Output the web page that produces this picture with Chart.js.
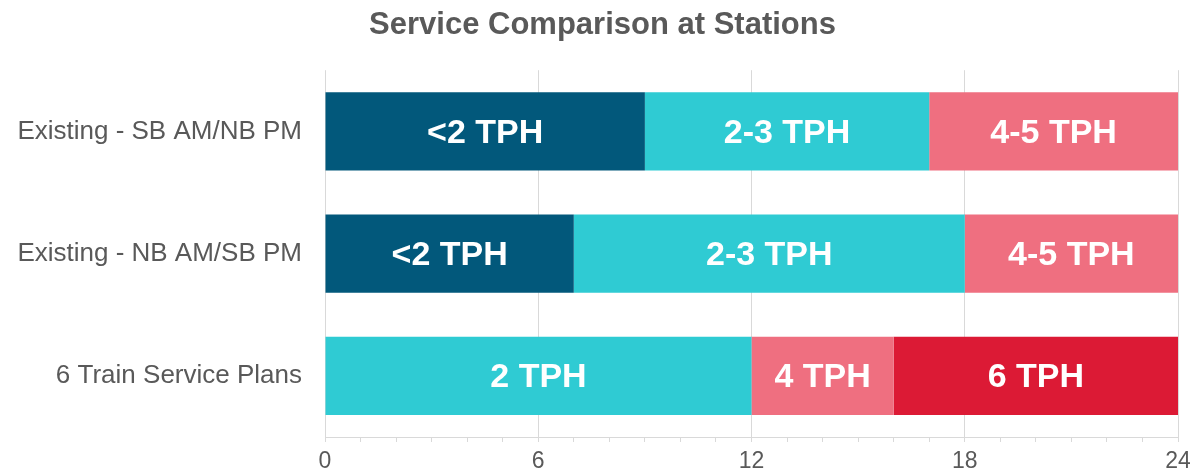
<!DOCTYPE html>
<html>
<head>
<meta charset="utf-8">
<script src="https://cdn.jsdelivr.net/npm/chart.js@4.4.1/dist/chart.umd.min.js"></script>
<style>
  html, body { margin: 0; padding: 0; background: #fff; }
  #wrap { width: 1190px; height: 472px; }
</style>
</head>
<body>
<div id="wrap"><canvas id="serviceChart"></canvas></div>
<script>
const categories = ['Existing - SB AM/NB PM', 'Existing - NB AM/SB PM', '6 Train Service Plans'];

// stacked segments, left to right (hours)
const segment1 = [9, 7, 12];
const segment2 = [8, 11, 4];
const segment3 = [7, 6, 8];

const segment1Labels = ['<2 TPH', '<2 TPH', '2 TPH'];
const segment2Labels = ['2-3 TPH', '2-3 TPH', '4 TPH'];
const segment3Labels = ['4-5 TPH', '4-5 TPH', '6 TPH'];

const xTicks = [0, 6, 12, 18, 24];

const DARK = '#02587B', CYAN = '#2FCBD3', PINK = '#EF6F80', RED = '#DC1A35';
const GRID = '#d9d9d9', TEXT = '#595959';

// draw the TPH text in the middle of each segment
const segmentText = {
  id: 'segmentText',
  afterDatasetsDraw(chart) {
    const ctx = chart.ctx;
    ctx.save();
    ctx.fillStyle = '#fff';
    ctx.font = 'bold 34px "Liberation Sans", Arial, sans-serif';
    ctx.textAlign = 'center';
    ctx.textBaseline = 'middle';
    chart.data.datasets.forEach((ds, i) => {
      const meta = chart.getDatasetMeta(i);
      meta.data.forEach((bar, j) => {
        const p = bar.getProps(['x', 'y', 'base'], true);
        ctx.fillText(ds.segLabels[j], (p.x + p.base) / 2, p.y + 2);
      });
    });
    ctx.restore();
  }
};

const serviceChart = new Chart(document.getElementById('serviceChart'), {
  type: 'bar',
  data: {
    labels: categories,
    datasets: [
      { data: segment1, segLabels: segment1Labels, backgroundColor: [DARK, DARK, CYAN] },
      { data: segment2, segLabels: segment2Labels, backgroundColor: [CYAN, CYAN, PINK] },
      { data: segment3, segLabels: segment3Labels, backgroundColor: [PINK, PINK, RED] }
    ]
  },
  options: {
    indexAxis: 'y',
    responsive: true,
    maintainAspectRatio: false,
    animation: false,
    barPercentage: 0.8,
    categoryPercentage: 0.8,
    layout: { padding: { left: 15, right: 0, top: 0, bottom: 0 } },
    scales: {
      x: {
        stacked: true,
        min: 0,
        max: 24,
        afterFit: s => { s.height = 35; s.paddingRight = 12; },
        grid: {
          color: c => xTicks.includes(c.tick.value) ? GRID : 'transparent',
          tickColor: GRID,
          tickLength: 5
        },
        border: { display: true, color: GRID },
        ticks: {
          stepSize: 1,
          autoSkip: false,
          maxRotation: 0,
          padding: 8,
          color: TEXT,
          font: { family: '"Liberation Sans", Arial, sans-serif', size: 23, lineHeight: 1 },
          callback: v => xTicks.includes(v) ? v : ''
        }
      },
      y: {
        stacked: true,
        grid: { display: false, drawTicks: false },
        border: { display: false },
        afterFit: s => { s.width = 310; s.paddingTop = 0; s.paddingBottom = 0; },
        ticks: {
          padding: 23,
          color: TEXT,
          font: { family: '"Liberation Sans", Arial, sans-serif', size: 26 }
        }
      }
    },
    plugins: {
      legend: { display: false },
      tooltip: { enabled: false },
      title: {
        display: true,
        text: 'Service Comparison at Stations',
        color: TEXT,
        font: { family: '"Liberation Sans", Arial, sans-serif', size: 31, weight: 'bold' },
        padding: { top: 7, bottom: 26 }
      }
    }
  },
  plugins: [segmentText]
});
</script>
</body>
</html>
